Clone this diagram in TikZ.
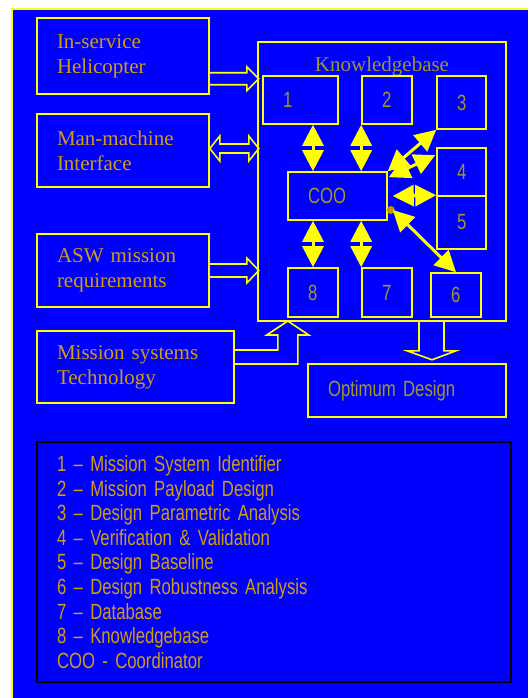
\documentclass[tikz,border=0pt]{standalone}
\usepackage{fontspec}
\setmainfont{Liberation Serif}
\newfontfamily\narrowsf[FakeStretch=0.76, WordSpace=0.7]{Liberation Sans}
\usetikzlibrary{arrows.meta,calc}
\definecolor{kbblue}{RGB}{0,0,255}
\definecolor{kbyellow}{RGB}{255,255,0}
\definecolor{txtgold}{RGB}{210,155,20}
\definecolor{txtolive}{RGB}{160,150,45}
\definecolor{dotgold}{RGB}{190,150,0}
\tikzset{
	blk/.style={draw=kbyellow, line width=1.6pt, inner xsep=20pt, inner ysep=0pt, align=left},
	inbox/.style={blk, text=txtgold, font=\fontsize{21}{25}\selectfont},
	numbox/.style={blk, text=txtolive, font=\narrowsf\fontsize{22}{25}\selectfont},
	barrow/.style={draw=kbyellow, line width=1.6pt, line join=miter},
	dblarr/.style={kbyellow, line width=3pt, {Triangle[width=21pt,length=21pt]}-{Triangle[width=21pt,length=21pt]}}
}
\begin{document}
\begin{tikzpicture}[x=1pt, y=-1pt]
	\useasboundingbox (0,0) rectangle (528,698);
	\fill[white] (0,0) rectangle (528,698);
	\fill[kbblue] (12,9) rectangle (528,698);
	\draw[kbyellow, line width=2.5pt] (12,698) -- (12,9) -- (528,9);
	% inputs
	\node[inbox, text width=132pt, minimum height=76pt](heli) at (123,56){In-service\\Helicopter};
	\node[inbox, text width=132pt, minimum height=73pt](mmi) at (123,150.5){Man-machine\\Interface};
	\node[inbox, text width=132pt, minimum height=73pt](asw) at (123,270.5){ASW mission\\requirements};
	\node[inbox, text width=157pt, minimum height=72pt](mst) at (135.5,367){Mission systems\\Technology};
	% knowledgebase
	\node[blk, inner sep=0pt, minimum width=248pt, minimum height=279pt](kb) at (382,181.5){};
	\node[text=txtolive, font=\fontsize{21}{25}\selectfont](kbtitle) at (382,66){Knowledgebase};
	\node[numbox, text width=35pt, minimum height=48pt](b1) at (300.5,100){1};
	\node[numbox, text width=10pt, minimum height=48pt](b2) at (387,100){2};
	\node[numbox, text width=9pt, minimum height=53pt](b3) at (461.5,102.5){3};
	\node[numbox, text width=9pt, minimum height=48pt](b4) at (461.5,172){4};
	\node[numbox, text width=9pt, minimum height=53pt](b5) at (461.5,222.5){5};
	\node[numbox, text width=59pt, minimum height=48pt](coo) at (337.5,196){COO};
	\node[numbox, text width=10pt, minimum height=49pt](b8) at (313,292.5){8};
	\node[numbox, text width=10pt, minimum height=49pt](b7) at (387,292.5){7};
	\node[numbox, text width=10pt, minimum height=44pt](b6) at (456,295){6};
	\node[numbox, text width=158pt, minimum height=53pt](opt) at (407,390.5){Optimum Design};
	% block arrows
	\draw[barrow]($(heli.south east)+(0,-22)$) -- ++(37,0) -- ++(0,-6) -- ++(12,12) -- ++(-12,12) -- ++(0,-6) -- ++(-37,0);
	\draw[barrow]($(mmi.east)+(0,-2)$) -- ++(10,-12.5) -- ++(0,8) -- ++(29,0) -- ++(0,-8) -- ++(10,12.5) -- ++(-10,12.5) -- ++(0,-8) -- ++(-29,0) -- ++(0,8) -- cycle;
	\draw[barrow]($(asw.east)+(0,-6.5)$) -- ++(37,0) -- ++(0,-6) -- ++(12,12.5) -- ++(-12,12.5) -- ++(0,-6) -- ++(-37,0);
	\draw[barrow]($(mst.east)+(0,-17)$) -- ++(43,0) -- ++(0,-15) -- ++(-11,0) -- ++(21,-14) -- ++(21,14) -- ++(-11,0) -- ++(0,29) -- ++(-63,0);
	\draw[barrow]($(kb.south)+(37,0)$) -- ++(0,29) -- ++(-12,0) -- ++(25,9) -- ++(24,-9) -- ++(-12,0) -- ++(0,-29);
	% links to the coordinator
	\fill[dotgold]($(coo.east)+(3,14)$) circle (4);
	\draw[dblarr](b1.south -| b8.north) -- (coo.north -| b8.north);
	\draw[dblarr](b2.south west) -- (coo.north -| b2.west);
	\draw[dblarr](coo.south -| b8.north) -- (b8.north);
	\draw[dblarr](coo.south -| b7.west) -- (b7.north west);
	\draw[dblarr](coo.north east) -- (b3.south west);
	\draw[dblarr]($(coo.north east)+(1,6)$) -- ($(b4.north west)+(-1,8)$);
	\draw[dblarr]($(coo.east)+(5,0)$) -- (b5.north west);
	\draw[dblarr]($(coo.east)+(5,14)$) -- (b6.north);
	% legend
	\node[draw=black, line width=1.8pt, text=txtgold, font=\narrowsf\fontsize{22}{24.6}\selectfont, text width=434pt, inner xsep=20pt, inner ysep=0pt, minimum height=240pt, align=left](legend) at (274,562){1 – Mission System Identifier\\2 – Mission Payload Design\\3 – Design Parametric Analysis\\4 – Verification \& Validation\\5 – Design Baseline\\6 – Design Robustness Analysis\\7 – Database\\8 – Knowledgebase\\COO - Coordinator};
\end{tikzpicture}
\end{document}
